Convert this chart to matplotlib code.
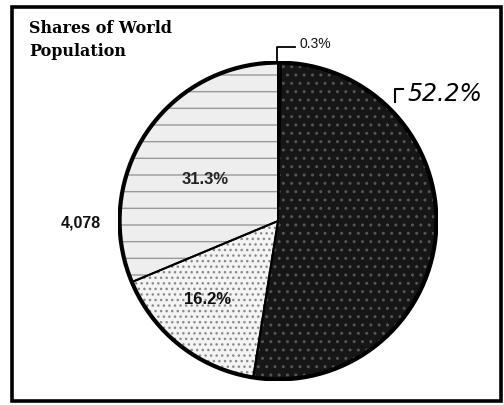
import matplotlib
matplotlib.use("Agg")
import matplotlib.pyplot as plt
from matplotlib.patches import Rectangle, Circle

# ---- data ----
shares = [0.3, 52.2, 16.2, 31.3]
share_labels = ["0.3%", "52.2%", "16.2%", "31.3%"]
total_label = "4,078"
title = "Shares of World\nPopulation"

W, H = 504, 406
fig = plt.figure(figsize=(W / 100, H / 100), dpi=100)
fig.patch.set_facecolor("white")

def fx(x):
    return x / W

def fy(y):
    return 1 - y / H

# frame
fig.patches.append(Rectangle((fx(12), fy(402)), fx(501) - fx(12), fy(8) - fy(402),
                             transform=fig.transFigure, fill=False,
                             edgecolor="black", linewidth=2.6))

# pie axes: center (278, 222), radius 160 px
cx, cy, r = 278, 222, 160
ax = fig.add_axes([fx(cx - r), fy(cy + r), 2 * r / W, 2 * r / H])

faces = ["#111111", "#161616", "#f4f4f4", "#eeeeee"]
hatches = [None, "..", "...", "-"]
hcols = ["#111111", "#555555", "#8a8a8a", "#9a9a9a"]

wedges, _ = ax.pie(shares, startangle=90, counterclock=False, radius=1,
                   colors=faces, wedgeprops=dict(linewidth=0))
for w, h, c in zip(wedges, hatches, hcols):
    if h:
        w.set_hatch(h)
        w.set_edgecolor(c)
        w.set_linewidth(0)

# boundaries
ax.pie(shares, startangle=90, counterclock=False, radius=1,
       colors=["none"] * len(shares),
       wedgeprops=dict(linewidth=1.4, edgecolor="black", fill=False))
ax.add_patch(Circle((0, 0), 1, fill=False, edgecolor="black", linewidth=3.0))
ax.set_xlim(-1.01, 1.01)
ax.set_ylim(-1.01, 1.01)
ax.axis("off")

# labels in pixel positions
fig.text(fx(205), fy(179), share_labels[3], ha="center", va="center",
         fontsize=12, fontweight="bold", family="Liberation Sans", color="#222222")
fig.text(fx(208), fy(300), share_labels[2], ha="center", va="center",
         fontsize=12, fontweight="bold", family="Liberation Sans", color="#111111")
fig.text(fx(81), fy(223), total_label, ha="center", va="center",
         fontsize=11.5, fontweight="bold", family="Liberation Sans", color="#111111")

# 0.3% leader
fig.add_artist(plt.Line2D([fx(277), fx(277), fx(295)], [fy(63), fy(48), fy(48)],
                          transform=fig.transFigure, color="black", linewidth=1.3))
fig.text(fx(300), fy(44), share_labels[0], ha="left", va="center",
         fontsize=10, family="Liberation Sans", color="#111111")

# handwritten 52.2%
fig.add_artist(plt.Line2D([fx(395), fx(395), fx(403)], [fy(103), fy(90), fy(90)],
                          transform=fig.transFigure, color="black", linewidth=1.5))
fig.text(fx(408), fy(94), share_labels[1], ha="left", va="center",
         fontsize=17, style="italic", family="DejaVu Sans", color="black")

# title
fig.text(fx(29), fy(20), title, ha="left", va="top",
         fontsize=11.5, fontweight="bold", family="DejaVu Serif",
         color="black", linespacing=1.45)

fig.savefig("out.png", dpi=100)
